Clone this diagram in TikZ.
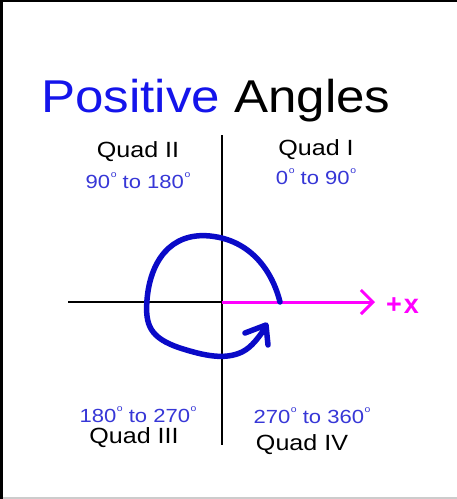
\documentclass[tikz,border=0pt]{standalone}
\usepackage{fontspec}
\setmainfont{Liberation Sans}
\usepackage{graphicx}
\usetikzlibrary{arrows.meta}
\definecolor{titleblue}{RGB}{20,20,235}
\definecolor{degblue}{RGB}{55,55,215}
\definecolor{curveblue}{RGB}{10,10,200}
\definecolor{mag}{RGB}{255,0,255}
\newcommand{\dgr}{\kern0.5pt\raisebox{0.56em}{\fontsize{9}{9}\selectfont o}}
\tikzset{
  quad/.style={inner sep=0pt, anchor=base, font=\fontsize{22}{22}\selectfont, text=black},
  degs/.style={inner sep=0pt, anchor=base, font=\fontsize{19}{19}\selectfont, text=degblue},
  axis/.style={line width=2.5pt, black},
}
\begin{document}
\begin{tikzpicture}[x=1pt,y=-1pt]
\useasboundingbox (0,0) rectangle (457,499);
\fill[white] (0,0) rectangle (457,499);
% frame
\fill[black] (0,0) rectangle (457,2);
\fill[black] (0,0) rectangle (3,499);
\fill[black!20] (3,496.5) rectangle (457,499);
% title
\node[inner sep=0pt, anchor=base west] (title) at (41,112)
  {\fontsize{46}{46}\selectfont\scalebox{1.11}[1]{\textcolor{titleblue}{Positive} Angles}};
% axes
\coordinate (o) at (222,302);
\coordinate (ytop) at (222,135);
\coordinate (ybot) at (222,445);
\coordinate (xl) at (68,302);
\coordinate (xr) at (375,302);
\draw[axis] (ytop) -- (ybot);
\draw[axis] (xl) -- (o);
\draw[line width=3pt, mag, -{Straight Barb[length=12pt, width=24pt, line width=3pt]}] (o) -- (xr);
\node[inner sep=0pt, anchor=base west, text=mag, font=\fontsize{27}{27}\selectfont\bfseries] (px) at (386,313) {+\kern2pt x};
% curve
\draw[line width=5.5pt, curveblue, line cap=round, line join=round]
  (280,302) .. controls (272,270) and (250,240) .. (210,236)
  .. controls (170,232) and (150,262) .. (147,300)
  .. controls (145,325) and (150,338) .. (180,348)
  .. controls (205,356) and (225,360) .. (242,352)
  .. controls (252,347) and (258,338) .. (266,327);
\draw[line width=5.5pt, curveblue, line cap=round, line join=round]
  (245,333) -- (266,325) -- (268,345);
% labels
\node[quad] (q2) at (138,157) {\scalebox{1.14}[1]{Quad II}};
\node[degs] (d2) at (138,188) {\scalebox{1.16}[1]{90\dgr{} to 180\dgr}};
\node[quad] (q1) at (316,155) {\scalebox{1.14}[1]{Quad I}};
\node[degs] (d1) at (316,184) {\scalebox{1.16}[1]{0\dgr{} to 90\dgr}};
\node[degs] (d3) at (138,422) {\scalebox{1.16}[1]{180\dgr{} to 270\dgr}};
\node[quad] (q3) at (134,443) {\scalebox{1.14}[1]{Quad III}};
\node[degs] (d4) at (312,423) {\scalebox{1.16}[1]{270\dgr{} to 360\dgr}};
\node[quad] (q4) at (302,450) {\scalebox{1.14}[1]{Quad IV}};
\end{tikzpicture}
\end{document}
